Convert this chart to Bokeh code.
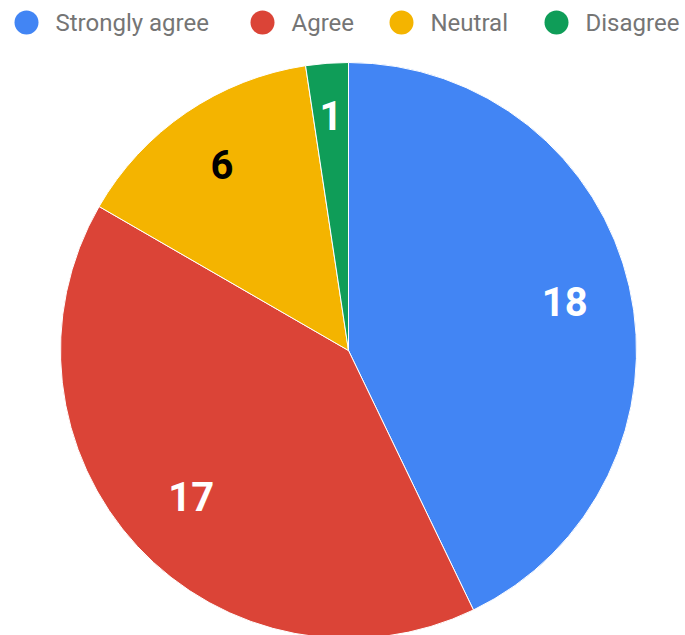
import math
from bokeh.plotting import figure
from bokeh.models import Range1d, ColumnDataSource
from bokeh.core.properties import value
from bokeh.embed import file_html
from bokeh.resources import INLINE

categories = ["Strongly agree", "Agree", "Neutral", "Disagree"]
counts = [18, 17, 6, 1]
colors = ["#4285F4", "#DB4437", "#F4B400", "#0F9D58"]
label_colors = ["white", "white", "black", "white"]
label_radius = [0.77, 0.745, 0.78, 0.82]

W, H = 685, 635
p = figure(width=W, height=H, output_backend="svg", toolbar_location=None,
           x_range=Range1d(0, W), y_range=Range1d(0, H), min_border=0)
p.axis.visible = False
p.grid.visible = False
p.outline_line_color = None

cx, cy, r = 348, H - 350, 288
total = sum(counts)
starts, ends, lx, ly = [], [], [], []
acc = 0
for c, f in zip(counts, label_radius):
    a0 = math.pi / 2 - 2 * math.pi * acc / total
    a1 = math.pi / 2 - 2 * math.pi * (acc + c) / total
    starts.append(a0)
    ends.append(a1)
    mid = (a0 + a1) / 2
    lx.append(cx + f * r * math.cos(mid))
    ly.append(cy + f * r * math.sin(mid))
    acc += c

src = ColumnDataSource(dict(start=starts, end=ends, color=colors,
                            lx=lx, ly=ly, txt=[str(c) for c in counts],
                            tc=label_colors))
p.wedge(x=cx, y=cy, radius=r, start_angle="start", end_angle="end",
        direction="clock", fill_color="color", line_color="white",
        line_width=1, source=src)
p.text(x="lx", y="ly", text="txt", text_color="tc", source=src,
       text_font=value("Roboto"), text_font_style="bold",
       text_font_size="40px", text_align="center", text_baseline="middle")

# legend
leg_x = [26, 262, 401, 556]
leg_y = H - 22
p.scatter(x=leg_x, y=[leg_y] * 4, size=24, marker="circle",
          fill_color=colors, line_color=None)
p.text(x=[x + 29 for x in leg_x], y=[leg_y] * 4, text=categories,
       text_color="#757575", text_font=value("Roboto"),
       text_font_size="24px", text_align="left", text_baseline="middle")

open("out.html", "w").write(file_html(p, INLINE))
